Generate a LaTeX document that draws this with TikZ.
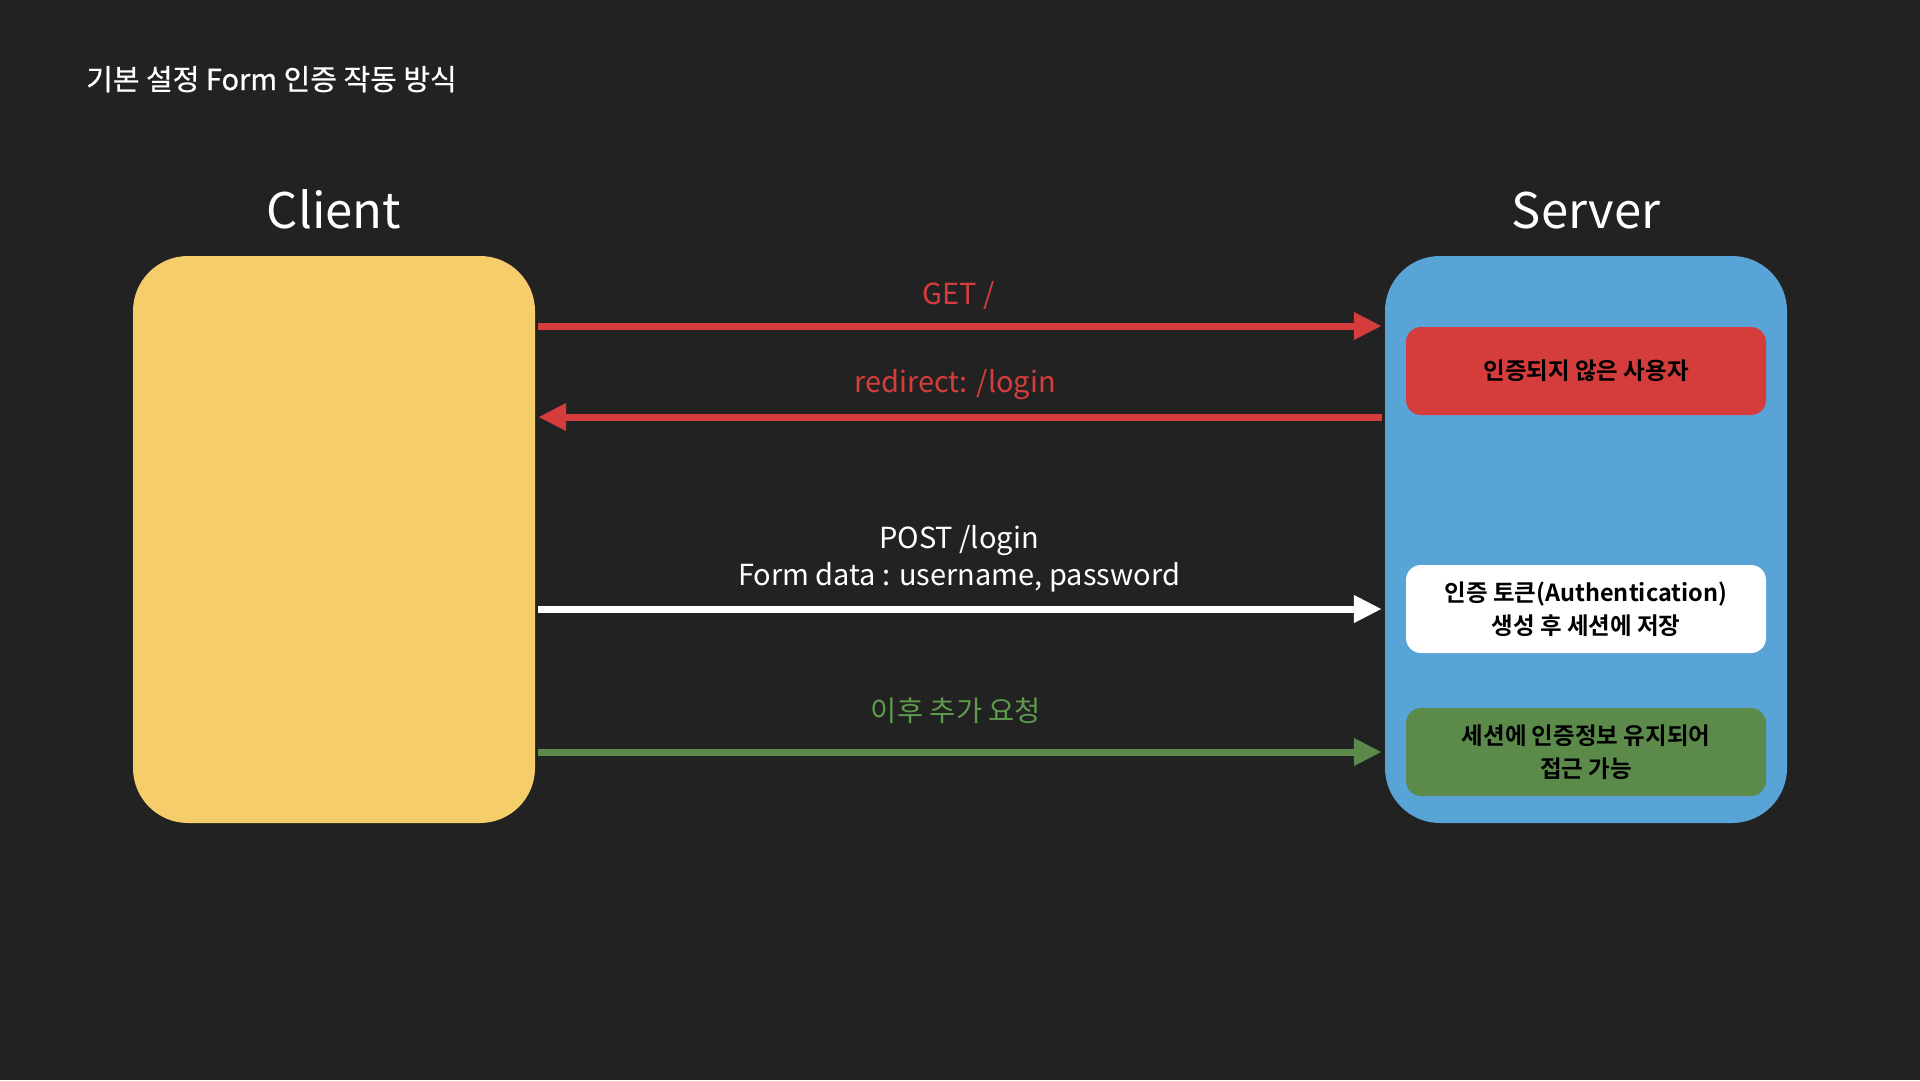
\documentclass[tikz,border=0pt]{standalone}
\usepackage{fontspec}
\setmainfont{Noto Sans CJK KR}[BoldFont={Noto Sans CJK KR Bold}]
\newfontfamily\medfont{Noto Sans CJK KR}[FakeBold=0.6]
\usetikzlibrary{arrows.meta}
\definecolor{bg}{HTML}{222222}
\definecolor{cyellow}{HTML}{F5CD6B}
\definecolor{sblue}{HTML}{58A4D6}
\definecolor{ared}{HTML}{D43D3B}
\definecolor{agreen}{HTML}{5B8A4B}
\definecolor{lgreen}{HTML}{5E9A4E}
\tikzset{
  bigbox/.style={rounded corners=55pt, minimum width=402pt, minimum height=567pt, inner sep=0pt},
  inbox/.style={rounded corners=15pt, minimum width=360pt, minimum height=88pt, inner sep=0pt,
     align=center, text=black, font=\bfseries\fontsize{23.5}{33}\selectfont},
  heading/.style={text=white, font=\fontsize{49}{52}\selectfont, anchor=base, inner sep=0pt},
  lbl/.style={font=\fontsize{29}{35}\selectfont, anchor=base, inner sep=0pt},
  conn/.style={line width=7pt, -{Triangle[length=28pt,width=26pt]}},
}
\begin{document}
\begin{tikzpicture}[x=1pt,y=-1pt]
\fill[bg] (0,0) rectangle (1920,1080);
\useasboundingbox (0,0) rectangle (1920,1080);

\node[text=white, font=\medfont\fontsize{29}{32}\selectfont, anchor=base west, inner sep=0pt] (title) at (86,90) {기본 설정 Form 인증 작동 방식};

\node[heading] (clientlbl) at (334,228) {Client};
\node[heading] (serverlbl) at (1586,228) {Server};

\node[bigbox, fill=cyellow] (client) at (334,539.5) {};
\node[bigbox, fill=sblue] (server) at (1586,539.5) {};

\node[inbox, fill=ared] (unauth) at (1586,371) {인증되지 않은 사용자};
\node[inbox, fill=white] (token) at (1586,609) {인증 토큰(Authentication)\\생성 후 세션에 저장};
\node[inbox, fill=agreen] (keep) at (1586,752) {세션에 인증정보 유지되어\\접근 가능};

% GET
\draw[conn, ared] ([xshift=3pt]client.east |- 0,326) -- ([xshift=-3pt]server.west |- 0,326);
\node[lbl, text=ared] (getlbl) at (959,304) {GET /};
% redirect
\draw[conn, ared] ([xshift=-3pt]server.west |- 0,417) -- ([xshift=3pt]client.east |- 0,417);
\node[lbl, text=ared] (redirlbl) at (955,392) {redirect: /login};
% POST
\draw[conn, white] ([xshift=3pt]client.east |- 0,609) -- ([xshift=-3pt]server.west |- 0,609);
\node[lbl, text=white] (post1) at (959,548) {POST /login};
\node[lbl, text=white] (post2) at (959,585) {Form data : username, password};
% further requests
\draw[conn, agreen] ([xshift=3pt]client.east |- 0,752) -- ([xshift=-3pt]server.west |- 0,752);
\node[text=lgreen, font=\fontsize{28.5}{32}\selectfont, inner sep=0pt] (morelbl) at (956,711) {이후 추가 요청};
\end{tikzpicture}
\end{document}
